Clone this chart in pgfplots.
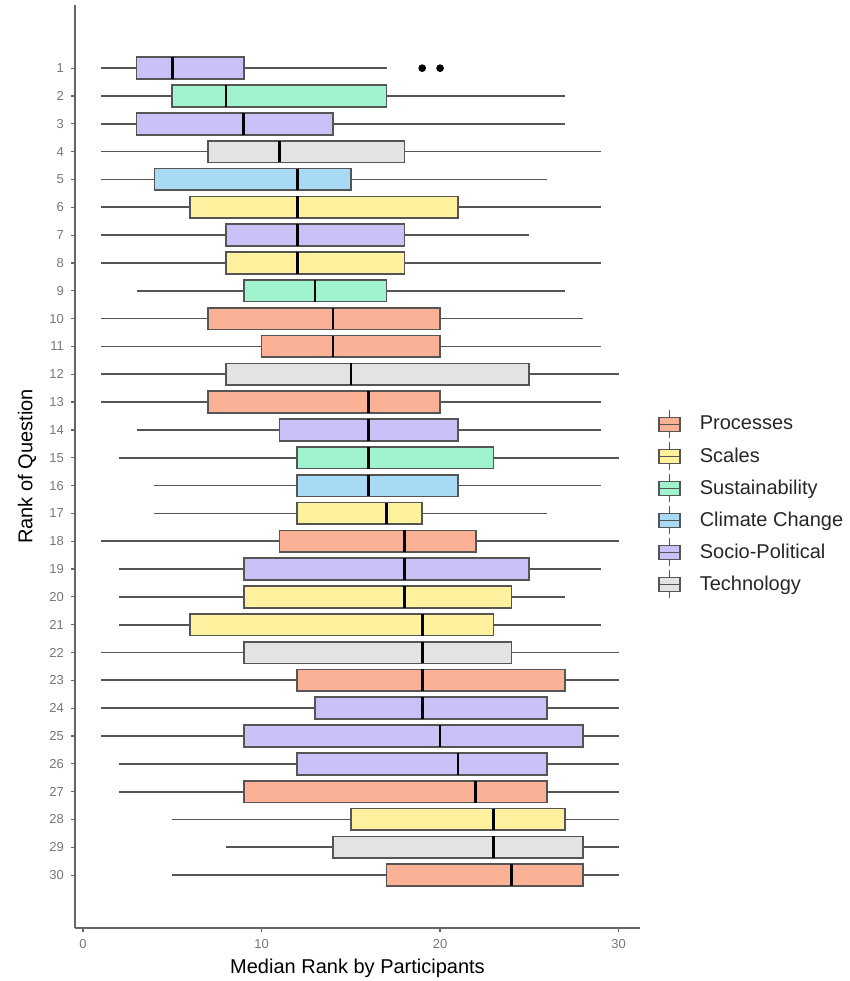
\documentclass[border=0pt]{standalone}
\usepackage{fontspec}
\setmainfont{Liberation Sans}
\usepackage{pgfplots}
\pgfplotsset{compat=1.18}
\usepgfplotslibrary{statistics}

\definecolor{cProc}{HTML}{FBB195}
\definecolor{cScal}{HTML}{FFF19E}
\definecolor{cSust}{HTML}{A0F3CF}
\definecolor{cClim}{HTML}{A8D9F5}
\definecolor{cSoci}{HTML}{CAC2F7}
\definecolor{cTech}{HTML}{E3E3E3}
\definecolor{lineC}{HTML}{555555}
\definecolor{axisC}{HTML}{666666}
\definecolor{tickC}{HTML}{777777}

\pgfplotsset{
  bxbase/.style={solid, draw=lineC, line width=0.85pt, forget plot,
    boxplot/box extend=0.78, boxplot/whisker extend=0,
    boxplot/every median/.style={black, line width=1.3pt}},
  proc/.style={bxbase, fill=cProc},
  scal/.style={bxbase, fill=cScal},
  sust/.style={bxbase, fill=cSust},
  clim/.style={bxbase, fill=cClim},
  soci/.style={bxbase, fill=cSoci},
  tech/.style={bxbase, fill=cTech},
  bxkey/.style={legend image code/.code={
      \draw[##1, line width=0.7pt] (0pt,-3.5pt) rectangle (10.5pt,3.5pt);
      \draw[lineC, line width=0.7pt] (0pt,0pt) -- (10.5pt,0pt);
      \draw[lineC, line width=0.7pt] (5.25pt,3.5pt) -- (5.25pt,7pt);
      \draw[lineC, line width=0.7pt] (5.25pt,-3.5pt) -- (5.25pt,-7pt);
    }, draw=lineC},
}

% #1 style, #2 y position (31 - rank), then lower whisker, Q1, median, Q3, upper whisker
\newcommand{\bx}[7]{\addplot[#1, boxplot prepared={draw position=#2,
  lower whisker=#3, lower quartile=#4, median=#5, upper quartile=#6, upper whisker=#7}] coordinates {};}

\begin{document}
\begin{tikzpicture}
\begin{axis}[
  name=ax,
  scale only axis,
  width=282.5pt, height=461.5pt,
  xmin=-0.45, xmax=31.2,
  ymin=-0.9, ymax=32.27,
  axis lines*=left,
  axis line style={axisC, line width=1pt},
  xtick={0,10,20,30},
  ytick={1,...,30},
  yticklabels={30,29,28,27,26,25,24,23,22,21,20,19,18,17,16,15,14,13,12,11,10,9,8,7,6,5,4,3,2,1},
  tick align=outside, major tick length=2pt,
  tick style={axisC, line width=0.6pt},
  ticklabel style={font=\fontsize{6.5}{7}\selectfont, text=tickC},
  /pgf/number format/assume math mode=true,
  xlabel={Median Rank by Participants},
  ylabel={Rank of Question},
  label style={font=\fontsize{10}{12}\selectfont, text=black!85},
  every axis x label/.style={at={(axis description cs:0.5,0)}, anchor=center, yshift=-20pt},
  every axis y label/.style={at={(axis description cs:-0.085,0.5)}, anchor=center, rotate=90},
  legend style={at={(1,0.5)}, anchor=west, xshift=6pt, yshift=-19pt,
    draw=none, fill=none, font=\fontsize{10}{12}\selectfont, row sep=1.3pt,
    text=black!85,
    /tikz/every odd column/.append style={column sep=7.5pt}},
  legend cell align=left,
]
\addlegendimage{bxkey, fill=cProc}
\addlegendimage{bxkey, fill=cScal}
\addlegendimage{bxkey, fill=cSust}
\addlegendimage{bxkey, fill=cClim}
\addlegendimage{bxkey, fill=cSoci}
\addlegendimage{bxkey, fill=cTech}
\legend{Processes, Scales, Sustainability, Climate Change, Socio-Political, Technology}

\bx{soci}{30}{1}{3}{5}{9}{17}   % rank 1
\bx{sust}{29}{1}{5}{8}{17}{27}  % rank 2
\bx{soci}{28}{1}{3}{9}{14}{27}
\bx{tech}{27}{1}{7}{11}{18}{29}
\bx{clim}{26}{1}{4}{12}{15}{26}
\bx{scal}{25}{1}{6}{12}{21}{29}
\bx{soci}{24}{1}{8}{12}{18}{25}
\bx{scal}{23}{1}{8}{12}{18}{29}
\bx{sust}{22}{3}{9}{13}{17}{27}
\bx{proc}{21}{1}{7}{14}{20}{28}  % rank 10
\bx{proc}{20}{1}{10}{14}{20}{29}
\bx{tech}{19}{1}{8}{15}{25}{30}
\bx{proc}{18}{1}{7}{16}{20}{29}
\bx{soci}{17}{3}{11}{16}{21}{29}
\bx{sust}{16}{2}{12}{16}{23}{30}
\bx{clim}{15}{4}{12}{16}{21}{29}
\bx{scal}{14}{4}{12}{17}{19}{26}
\bx{proc}{13}{1}{11}{18}{22}{30}
\bx{soci}{12}{2}{9}{18}{25}{29}
\bx{scal}{11}{2}{9}{18}{24}{27}  % rank 20
\bx{scal}{10}{2}{6}{19}{23}{29}
\bx{tech}{9}{1}{9}{19}{24}{30}
\bx{proc}{8}{1}{12}{19}{27}{30}
\bx{soci}{7}{1}{13}{19}{26}{30}
\bx{soci}{6}{1}{9}{20}{28}{30}
\bx{soci}{5}{2}{12}{21}{26}{30}
\bx{proc}{4}{2}{9}{22}{26}{30}
\bx{scal}{3}{5}{15}{23}{27}{30}
\bx{tech}{2}{8}{14}{23}{28}{30}
\bx{proc}{1}{5}{17}{24}{28}{30}  % rank 30

% outliers of rank 1
\addplot[only marks, mark=*, mark size=1.7pt, black, forget plot] coordinates {(19,30) (20,30)};
\end{axis}
\pgfresetboundingbox
\path[use as bounding box] ([shift={(-37.5pt,-26.5pt)}]ax.south west) rectangle ([shift={(105pt,2.5pt)}]ax.north east);
\end{tikzpicture}
\end{document}
